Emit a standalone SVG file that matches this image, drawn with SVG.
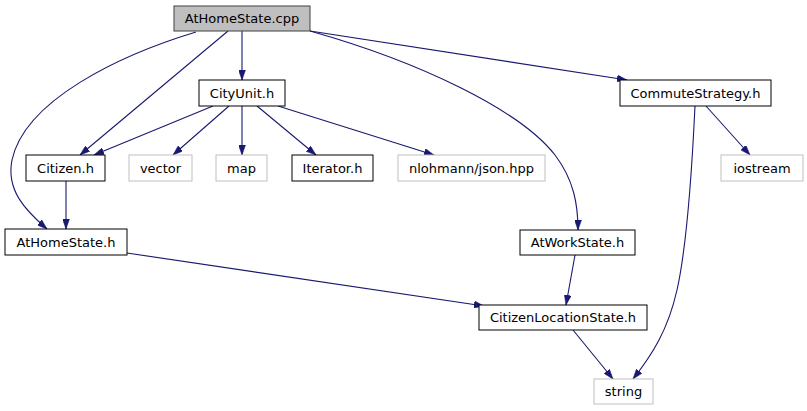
<svg xmlns="http://www.w3.org/2000/svg" width="807" height="411" viewBox="0 0 807 411">
<style>
.n rect{fill:#ffffff;stroke:#000000;stroke-width:1}
.n.root rect{fill:#bfbfbf;stroke:#404040}
.n.ext rect{stroke:#bfbfbf}
.n text{font-family:"DejaVu Sans",sans-serif;font-size:13px;fill:#000000;text-anchor:middle}
.e path{fill:none;stroke:#191970;stroke-width:1.1}
</style>
<defs>
<marker id="ah" viewBox="0 0 10 7" refX="10" refY="3.5" markerWidth="10" markerHeight="7" markerUnits="userSpaceOnUse" orient="auto">
<path d="M0,0 L10,3.5 L0,7 z" fill="#191970" stroke="#191970" stroke-width="0.5"/>
</marker>
</defs>
<rect width="807" height="411" fill="#ffffff"/>
<g id="connectors" class="e">
<path marker-end="url(#ah)" d="M242,31 L242,80"/>
<path marker-end="url(#ah)" d="M228,31 L80,155"/>
<path marker-end="url(#ah)" d="M196,32 C120,55 25,100 12,160 C6,190 25,210 47,229"/>
<path marker-end="url(#ah)" d="M310,31 L627,80"/>
<path marker-end="url(#ah)" d="M310,31 C420,62 520,110 555,155 C574,180 578,205 578,230"/>
<path marker-end="url(#ah)" d="M213,106 L94,155"/>
<path marker-end="url(#ah)" d="M229,106 L173,155"/>
<path marker-end="url(#ah)" d="M242,106 L242,155"/>
<path marker-end="url(#ah)" d="M257,106 L316,155"/>
<path marker-end="url(#ah)" d="M278,106 L434,155"/>
<path marker-end="url(#ah)" d="M706,106 L750,155"/>
<path marker-end="url(#ah)" d="M695,106 C691,190 686,250 677,290 C668,330 652,355 633,379"/>
<path marker-end="url(#ah)" d="M66,181 L66,229"/>
<path marker-end="url(#ah)" d="M127,253 L484,306"/>
<path marker-end="url(#ah)" d="M575,255 L566,305"/>
<path marker-end="url(#ah)" d="M573,330 L613,379"/>
</g>
<g id="AtHomeState_cpp" class="n root"><rect x="174" y="6" width="136" height="25"/><text x="242" y="23">AtHomeState.cpp</text></g>
<g id="CityUnit_h" class="n"><rect x="199" y="80" width="86" height="26"/><text x="242" y="97.5">CityUnit.h</text></g>
<g id="CommuteStrategy_h" class="n"><rect x="620" y="80" width="151" height="26"/><text x="695.5" y="97.5">CommuteStrategy.h</text></g>
<g id="Citizen_h" class="n"><rect x="26" y="155" width="79" height="26"/><text x="65.5" y="172.5">Citizen.h</text></g>
<g id="vector" class="n ext"><rect x="129" y="155" width="63" height="26"/><text x="160.5" y="172.5">vector</text></g>
<g id="map" class="n ext"><rect x="216" y="155" width="51" height="26"/><text x="241.5" y="172.5">map</text></g>
<g id="Iterator_h" class="n"><rect x="292" y="155" width="81" height="26"/><text x="332.5" y="172.5">Iterator.h</text></g>
<g id="nlohmann_json_hpp" class="n ext"><rect x="398" y="155" width="147" height="26"/><text x="471.5" y="172.5">nlohmann/json.hpp</text></g>
<g id="iostream" class="n ext"><rect x="721" y="155" width="82" height="26"/><text x="762" y="172.5">iostream</text></g>
<g id="AtHomeState_h" class="n"><rect x="5" y="229" width="122" height="26"/><text x="66" y="246.5">AtHomeState.h</text></g>
<g id="AtWorkState_h" class="n"><rect x="520" y="230" width="115" height="25"/><text x="577.5" y="247">AtWorkState.h</text></g>
<g id="CitizenLocationState_h" class="n"><rect x="479" y="305" width="168" height="25"/><text x="563" y="322">CitizenLocationState.h</text></g>
<g id="string" class="n ext"><rect x="594" y="379" width="59" height="25"/><text x="623.5" y="396">string</text></g>
</svg>
